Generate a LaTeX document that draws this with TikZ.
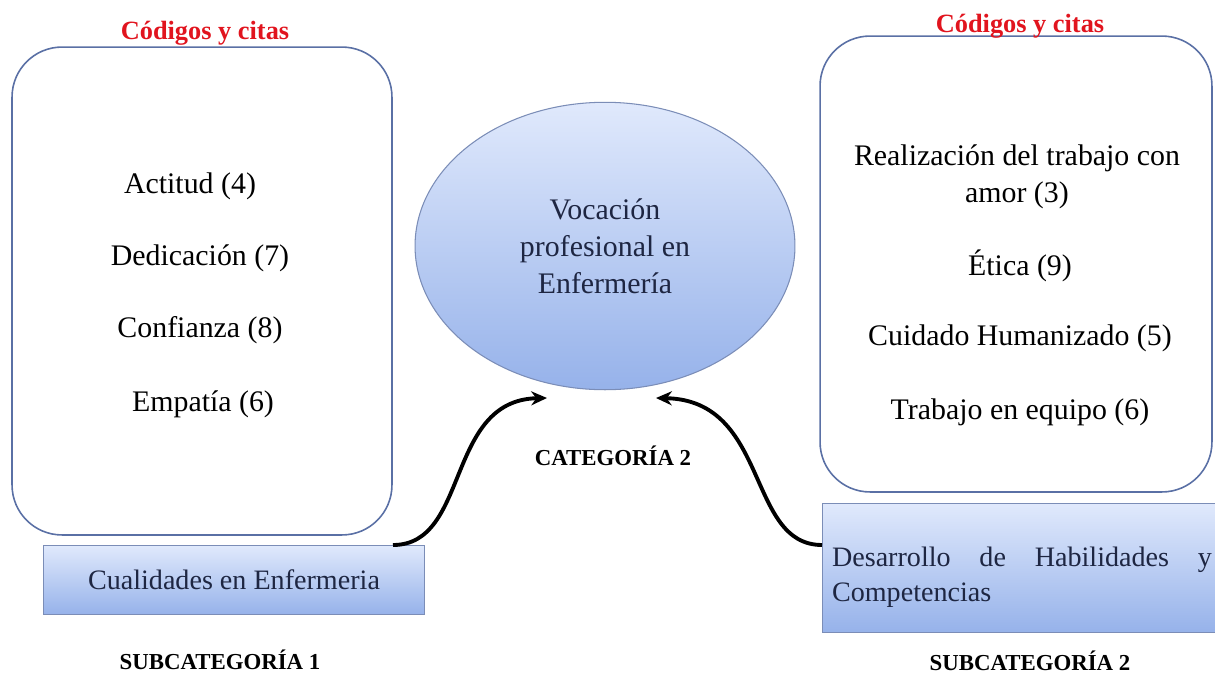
\documentclass[tikz,border=0pt]{standalone}
\usepackage{fontspec}
\setmainfont{Liberation Serif}
\usetikzlibrary{shapes.geometric,arrows.meta}
\definecolor{rojotit}{RGB}{225,20,30}
\definecolor{bordeazul}{RGB}{90,112,165}
\definecolor{azulclaro}{RGB}{224,233,252}
\definecolor{azulmedio}{RGB}{150,178,234}
\definecolor{tinta}{RGB}{30,38,66}
\begin{document}
\begin{tikzpicture}[
      x=0.02cm, y=-0.02cm,
      flecha/.style={line width=2.2pt, draw=black, -{Stealth[length=9pt,width=8pt]},
        shorten >=0pt, shorten <=0pt},
      cajon/.style={rectangle, rounded corners=1cm, draw=bordeazul,
        line width=0.9pt, fill=white},
      bloque/.style={rectangle, draw=bordeazul!80, line width=0.6pt,
        top color=azulclaro, bottom color=azulmedio, text=tinta,
        font=\fontsize{16}{20}\selectfont},
      ovalo/.style={ellipse, draw=bordeazul!80, line width=0.6pt,
        top color=azulclaro, bottom color=azulmedio, text=tinta,
        minimum width=7.6cm, minimum height=5.75cm, align=center,
        font=\fontsize{17}{21}\selectfont},
      titulo/.style={text=rojotit, font=\bfseries\fontsize{15}{18}\selectfont},
      codigo/.style={font=\fontsize{17}{21}\selectfont, align=center},
      etiqueta/.style={font=\bfseries\fontsize{13}{16}\selectfont}
    ]
    \useasboundingbox (0,0) rectangle (1215,677);
    % cajas de codigos
    \path (202,291) node(cajaizq) [cajon, minimum width=7.6cm, minimum height=9.76cm] {}
    (1016,264) node(cajader) [cajon, minimum width=7.84cm, minimum height=9.12cm] {};
    \path (205,33) node(titizq) [titulo] {Códigos y citas}
    (1020,26) node(titder) [titulo] {Códigos y citas};
    \path (190,186) node(actitud) [codigo] {Actitud (4)}
    (200,258) node(dedica) [codigo] {Dedicación (7)}
    (200,330) node(confia) [codigo] {Confianza (8)}
    (203,404) node(empatia) [codigo] {Empatía (6)};
    \path (1017,177) node(amor) [codigo] {Realización del trabajo con\\amor (3)}
    (1020,266) node(etica) [codigo] {Ética (9)}
    (1020,338) node(cuidado) [codigo] {Cuidado Humanizado (5)}
    (1020,412) node(equipo) [codigo] {Trabajo en equipo (6)};
    % categoria
    \path (605,246) node(voca) [ovalo] {Vocación\\profesional en\\Enfermería}
    (613,456) node(cat) [etiqueta] {CATEGORÍA 2};
    % subcategorias
    \path (234,580) node(cuali) [bloque, minimum width=7.64cm, minimum height=1.38cm]
      {Cualidades en Enfermeria}
    (220,660) node(sub1) [etiqueta] {SUBCATEGORÍA 1};
    \path (1022,568) node(desa) [bloque, minimum width=8cm, minimum height=2.58cm] {}
    (1022,577) node(desatxt) [text=tinta, font=\fontsize{16}{20}\selectfont,
      text width=7.6cm, align=justify]
      {Desarrollo de Habilidades y\linebreak Competencias}
    (1030,661) node(sub2) [etiqueta] {SUBCATEGORÍA 2};
    \coordinate (ini1) at (393,545);
    \coordinate (fin1) at (547,398);
    \coordinate (ini2) at (822,545);
    \coordinate (fin2) at (656,398);
    \draw[flecha] (ini1) .. controls (470,545) and (445,400) .. (fin1);
    \draw[flecha] (ini2) .. controls (746,545) and (770,400) .. (fin2);
  \end{tikzpicture}
\end{document}
